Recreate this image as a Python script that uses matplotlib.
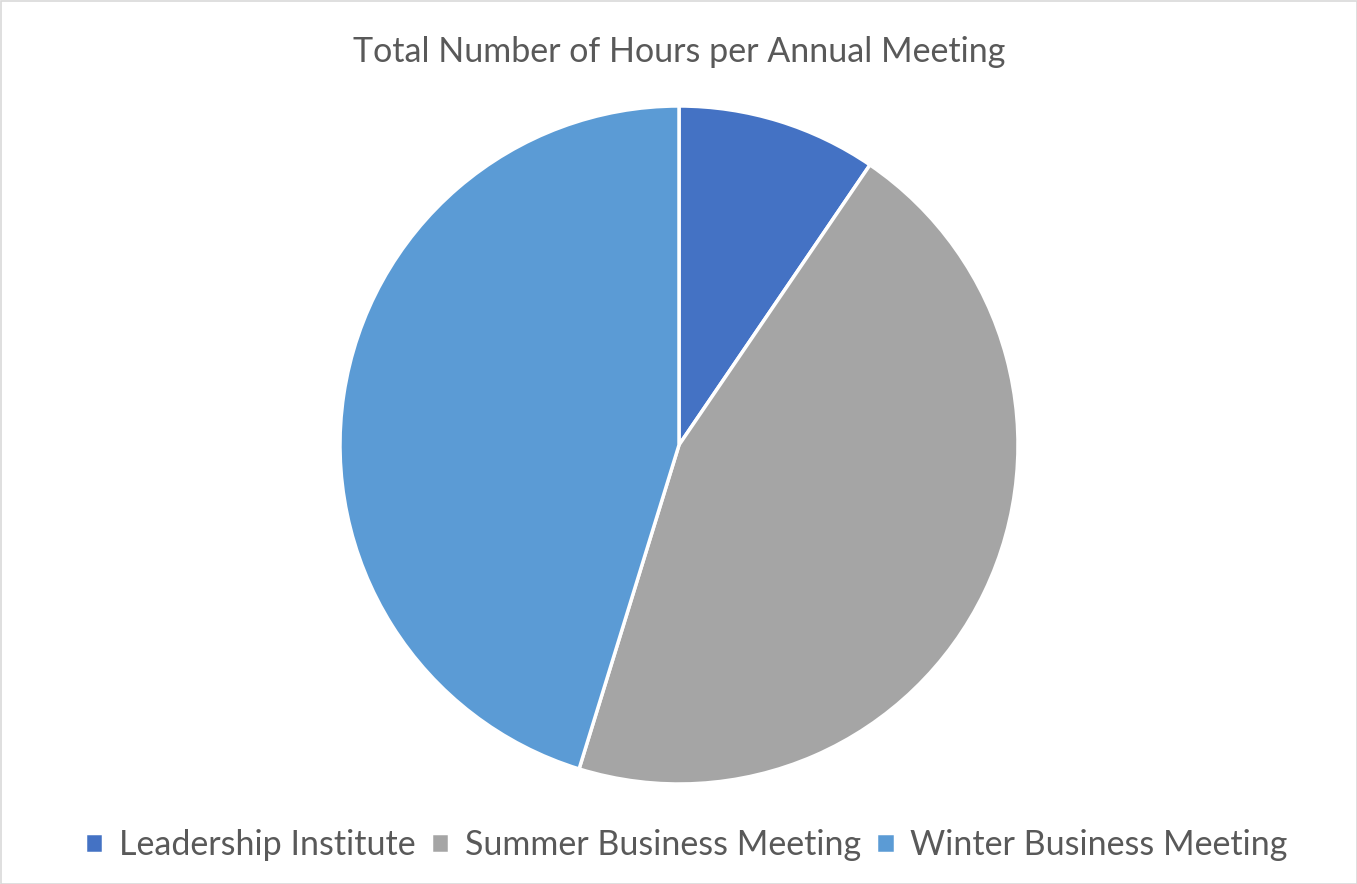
import matplotlib
matplotlib.use("Agg")
import matplotlib.pyplot as plt
from matplotlib.patches import Rectangle

categories = ["Leadership Institute", "Summer Business Meeting", "Winter Business Meeting"]
hours = [4, 19, 19]
colors = ["#4472C4", "#A5A5A5", "#5B9BD5"]
title = "Total Number of Hours per Annual Meeting"

plt.rcParams['font.family'] = ['Lato', 'DejaVu Sans']

W, H = 1357, 884
fig = plt.figure(figsize=(W/100, H/100), dpi=100)
cx, cy, r = 679, 445, 339
ax = fig.add_axes([(cx - r)/W, (H - cy - r)/H, 2*r/W, 2*r/H])
wedges, _ = ax.pie(hours, colors=colors, startangle=90, counterclock=False,
                   radius=1, wedgeprops=dict(edgecolor="white", linewidth=2.5))
ax.set_xlim(-1.0, 1.0)
ax.set_ylim(-1.0, 1.0)
ax.set_aspect('equal')
ax.axis('off')

fig.text(cx/W, 1 - 52/H, title, ha='center', va='center', fontsize=24.5, color='#595959')

leg = fig.legend(wedges, categories, loc='center', bbox_to_anchor=(686/W, 1 - 845/H),
                 ncol=3, frameon=False, fontsize=24.5, handlelength=0.55, handleheight=0.55,
                 handletextpad=0.45, columnspacing=0.45)
for t in leg.get_texts():
    t.set_color('#595959')

fig.patches.append(Rectangle((0.5/W, 0.5/H), 1 - 1/W, 1 - 1/H, transform=fig.transFigure,
                             fill=False, edgecolor='#D9D9D9', linewidth=1.2))
fig.savefig("out.png", dpi=100, facecolor='white')
